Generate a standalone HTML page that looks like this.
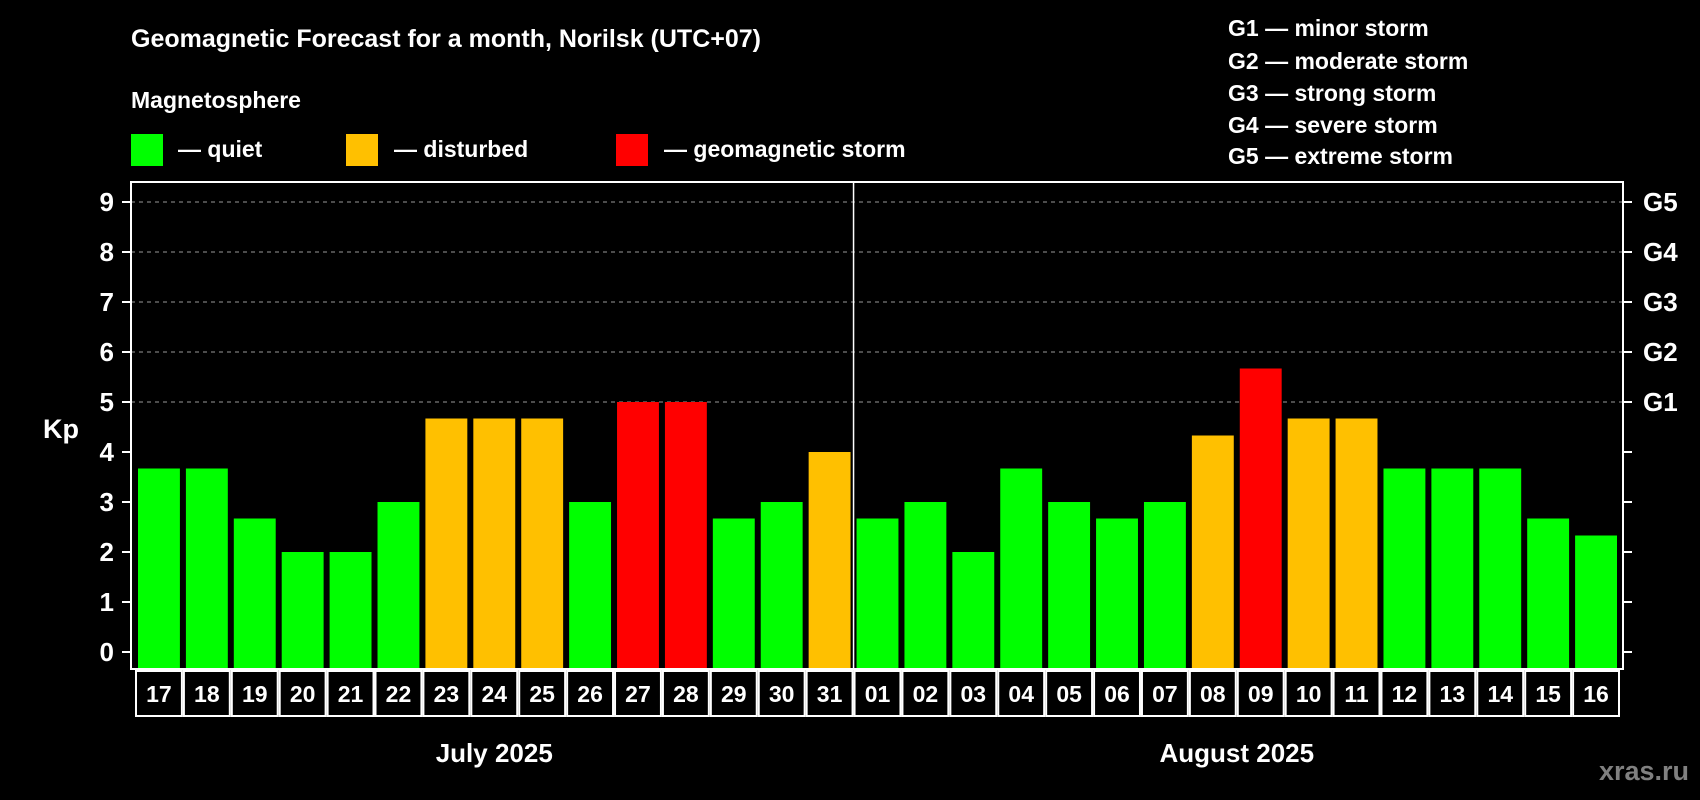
<!DOCTYPE html>
<html><head><meta charset="utf-8">
<style>
html,body{margin:0;padding:0;background:#000;}
svg{display:block;font-family:"Liberation Sans",Arial,sans-serif;font-weight:bold;}
</style></head>
<body>
<svg id="chart" width="1700" height="800" viewBox="0 0 1700 800" xmlns="http://www.w3.org/2000/svg">
<rect x="0" y="0" width="1700" height="800" fill="#000"/>
<text x="131" y="47" fill="#fff" font-size="25">Geomagnetic Forecast for a month, Norilsk (UTC+07)</text>
<text x="131" y="108" fill="#fff" font-size="23">Magnetosphere</text>
<rect x="131" y="134" width="32" height="32" fill="#00ff00"/>
<text x="178" y="157" fill="#fff" font-size="23">— quiet</text>
<rect x="346" y="134" width="32" height="32" fill="#ffc000"/>
<text x="394" y="157" fill="#fff" font-size="23">— disturbed</text>
<rect x="616" y="134" width="32" height="32" fill="#ff0000"/>
<text x="664" y="157" fill="#fff" font-size="23">— geomagnetic storm</text>
<g fill="#fff" font-size="23">
<text x="1228" y="36">G1 — minor storm</text>
<text x="1228" y="69">G2 — moderate storm</text>
<text x="1228" y="101">G3 — strong storm</text>
<text x="1228" y="133">G4 — severe storm</text>
<text x="1228" y="164">G5 — extreme storm</text>
</g>
<text x="43" y="438" fill="#fff" font-size="27">Kp</text>
<text x="1689" y="780" fill="#808080" font-size="27" text-anchor="end">xras.ru</text>
<g id="plot"></g>
</svg>
<script>
const days = ["17","18","19","20","21","22","23","24","25","26","27","28","29","30","31","01","02","03","04","05","06","07","08","09","10","11","12","13","14","15","16"];
const kpValues = [3.67,3.67,2.67,2,2,3,4.67,4.67,4.67,3,5,5,2.67,3,4,2.67,3,2,3.67,3,2.67,3,4.33,5.67,4.67,4.67,3.67,3.67,3.67,2.67,2.33];
const yTicks = ["0","1","2","3","4","5","6","7","8","9"];
const gLabels = ["G1","G2","G3","G4","G5"];
const months = ["July 2025","August 2025"];
const monthCounts = [15,16];

const NS="http://www.w3.org/2000/svg";
const g=document.getElementById('plot');
const L=131,R=1623,T=182,B=669,Y0=652,UNIT=50;
const slot=(R-L-7)/days.length;
const x=i=>L+4+i*slot;
const y=v=>Y0-v*UNIT;
function mk(tag,attrs){const e=document.createElementNS(NS,tag);for(const k in attrs)e.setAttribute(k,attrs[k]);g.appendChild(e);return e;}

// gridlines
for(let v=5;v<=9;v++){
  const ln=mk('line',{x1:L,x2:R,y1:y(v),y2:y(v),stroke:'#999','stroke-dasharray':'4,4','stroke-width':1});
  
  
}
// bars
kpValues.forEach((v,i)=>{
  const col=v>=5?'#ff0000':(v>=4?'#ffc000':'#00ff00');
  const r=mk('rect',{x:x(i)+3,y:y(v),width:slot-6,height:B-y(v),fill:col});
  
  
});
// frame
const fr=mk('rect',{x:L,y:T,width:R-L,height:B-T,fill:'none',stroke:'#fff','stroke-width':2});


// month separator
const sx=x(monthCounts[0]);
const sep=mk('line',{x1:sx,x2:sx,y1:T,y2:B,stroke:'#fff','stroke-width':1.5});


// y ticks
yTicks.forEach((t,i)=>{
  const v=+t;
  const tk=mk('line',{x1:L-9,x2:L,y1:y(v),y2:y(v),stroke:'#fff','stroke-width':2});
  
  
  const tk2=mk('line',{x1:R,x2:R+9,y1:y(v),y2:y(v),stroke:'#fff','stroke-width':2});
  
  
  const tx=mk('text',{x:114,y:y(v)+9,fill:'#fff','font-size':26,'text-anchor':'end'});
  tx.textContent=t;
  
  
});
gLabels.forEach((t,i)=>{
  const tx=mk('text',{x:1643,y:y(5+i)+9,fill:'#fff','font-size':26});
  tx.textContent=t;
  
  
});
// date boxes
days.forEach((d,i)=>{
  const bx=mk('rect',{x:x(i)+1,y:B+2,width:slot-2,height:45,fill:'#000',stroke:'#fff','stroke-width':2});
  
  
  const tx=mk('text',{x:x(i)+slot/2,y:B+33,fill:'#fff','font-size':23,'text-anchor':'middle'});
  tx.textContent=d;
  
  
});
// month labels
let start=0;
months.forEach((m,i)=>{
  const cx=(x(start)+x(start+monthCounts[i]))/2;
  const tx=mk('text',{x:cx,y:762,fill:'#fff','font-size':26,'text-anchor':'middle'});
  tx.textContent=m;
  
  
  start+=monthCounts[i];
});
</script>
</body></html>
